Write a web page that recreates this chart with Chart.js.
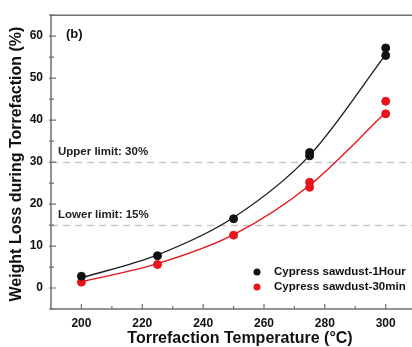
<!DOCTYPE html>
<html>
<head>
<meta charset="UTF-8">
<title>Weight loss during torrefaction</title>
<script src="https://cdn.jsdelivr.net/npm/chart.js@4.4.1/dist/chart.umd.min.js"></script>
<style>
    html, body { margin: 0; padding: 0; background: #fff; overflow: hidden; }
    #c { display: block; }
</style>
</head>
<body>
<canvas id="c" width="412" height="347"></canvas>
<script>
    // measured points (two repeats at 275 and 300)
    var temps = [200, 225, 250, 275, 275, 300, 300];
    var loss1h = [2.8, 7.7, 16.5, 31.5, 32.3, 57.2, 55.4];
    var loss30 = [1.4, 5.6, 12.6, 24.0, 25.2, 44.5, 41.5];

    // fitted curves
    var fitTemps = [200, 225, 250, 275, 300];
    var fit1h = [2.4, 7.9, 16.8, 31.6, 55.6];
    var fit30 = [1.5, 5.8, 12.7, 24.5, 41.8];

    var limitVals = [30, 15];
    var limitLabels = ["Upper limit: 30%", "Lower limit: 15%"];

    var xTicks = [200, 220, 240, 260, 280, 300];
    var yTicks = [0, 10, 20, 30, 40, 50, 60];

    var RED = "#e8141c";
    var AX = "#707070";
    var FONT = "'Liberation Sans', Arial, sans-serif";

    function pts(xs, ys) {
        var out = [];
        for (var i = 0; i < xs.length; i++) out.push({ x: xs[i], y: ys[i] });
        return out;
    }

    var deco = {
        id: "deco",
        beforeDatasetsDraw: function (chart) {
            var c = chart.ctx, a = chart.chartArea;
            var ys = chart.scales.y;
            c.save();
            // limit lines
            c.strokeStyle = "#c8c8c8";
            c.lineWidth = 1.3;
            c.setLineDash([7, 5]);
            c.font = "bold 11.5px " + FONT;
            c.fillStyle = "#222";
            c.textBaseline = "middle";
            for (var i = 0; i < limitVals.length; i++) {
                var y = Math.round(ys.getPixelForValue(limitVals[i])) + 0.5;
                c.beginPath(); c.moveTo(a.left, y); c.lineTo(412, y); c.stroke();
                c.fillText(limitLabels[i], a.left + 7, y - 11);
            }
            c.restore();
        },
        afterDraw: function (chart) {
            var c = chart.ctx, a = chart.chartArea;
            var xs = chart.scales.x, ys = chart.scales.y;
            c.save();
            c.strokeStyle = AX;
            c.lineWidth = 1.5;
            // frame: left, bottom, top (runs off the right edge)
            c.beginPath();
            c.moveTo(412, a.top); c.lineTo(a.left, a.top);
            c.lineTo(a.left, a.bottom); c.lineTo(412, a.bottom);
            c.stroke();
            // inward ticks
            c.lineWidth = 1.2;
            c.beginPath();
            for (var v = 200; v <= 300; v += 10) {
                var px = xs.getPixelForValue(v), len = (v % 20 == 0) ? 5 : 3;
                c.moveTo(px, a.bottom); c.lineTo(px, a.bottom - len);
            }
            for (var w = -5; w <= 65; w += 5) {
                var py = ys.getPixelForValue(w), l2 = (w % 10 == 0) ? 5 : 3;
                c.moveTo(a.left - 2, py); c.lineTo(a.left + l2, py);
            }
            c.stroke();
            // axis titles
            c.fillStyle = "#111";
            c.font = "bold 16px " + FONT;
            c.textAlign = "center";
            c.textBaseline = "middle";
            c.fillText("Torrefaction Temperature (°C)", 240, 339);
            c.translate(17, (a.top + a.bottom) / 2 + 2);
            c.rotate(-Math.PI / 2);
            c.fillText("Weight Loss during Torrefaction (%)", 0, 0);
            c.setTransform(1, 0, 0, 1, 0, 0);
            // panel tag
            c.textAlign = "left";
            c.font = "bold 13px " + FONT;
            c.fillText("(b)", a.left + 15, 34);
            // legend
            c.font = "bold 11.5px " + FONT;
            var items = [chart.data.datasets[0], chart.data.datasets[1]];
            for (var k = 0; k < items.length; k++) {
                var ly = 272 + k * 15;
                c.fillStyle = items[k].backgroundColor;
                c.beginPath(); c.arc(257, ly, 3.5, 0, Math.PI * 2); c.fill();
                c.fillStyle = "#111";
                c.fillText(items[k].label, 274, ly);
            }
            c.restore();
        }
    };

    new Chart(document.getElementById("c"), {
        type: "scatter",
        data: {
            datasets: [
                { label: "Cypress sawdust-1Hour", data: pts(temps, loss1h), backgroundColor: "#111", borderColor: "#111", pointRadius: 4, order: 0 },
                { label: "Cypress sawdust-30min", data: pts(temps, loss30), backgroundColor: RED, borderColor: RED, pointRadius: 4, order: 0 },
                { label: "fit1h", type: "line", data: pts(fitTemps, fit1h), borderColor: "#222", borderWidth: 1.4, pointRadius: 0, cubicInterpolationMode: "monotone", fill: false, order: 1 },
                { label: "fit30", type: "line", data: pts(fitTemps, fit30), borderColor: RED, borderWidth: 1.4, pointRadius: 0, cubicInterpolationMode: "monotone", fill: false, order: 1 }
            ]
        },
        options: {
            responsive: false,
            animation: false,
            layout: { padding: { top: 12, right: 0, left: 0, bottom: 0 } },
            plugins: { legend: { display: false }, tooltip: { enabled: false } },
            scales: {
                x: {
                    type: "linear", min: 190, max: 307,
                    afterBuildTicks: function (s) { s.ticks = xTicks.map(function (v) { return { value: v }; }); },
                    afterFit: function (s) { s.height = 38; },
                    grid: { display: false, drawTicks: false },
                    border: { display: false },
                    ticks: { color: "#111", font: { family: FONT, size: 12, weight: "bold" }, padding: 7, maxRotation: 0 }
                },
                y: {
                    min: -5, max: 65,
                    afterBuildTicks: function (s) { s.ticks = yTicks.map(function (v) { return { value: v }; }); },
                    afterFit: function (s) { s.width = 51; },
                    grid: { display: false, drawTicks: false },
                    border: { display: false },
                    ticks: { color: "#111", font: { family: FONT, size: 12, weight: "bold" }, padding: 8 }
                }
            }
        },
        plugins: [deco]
    });
</script>
</body>
</html>
